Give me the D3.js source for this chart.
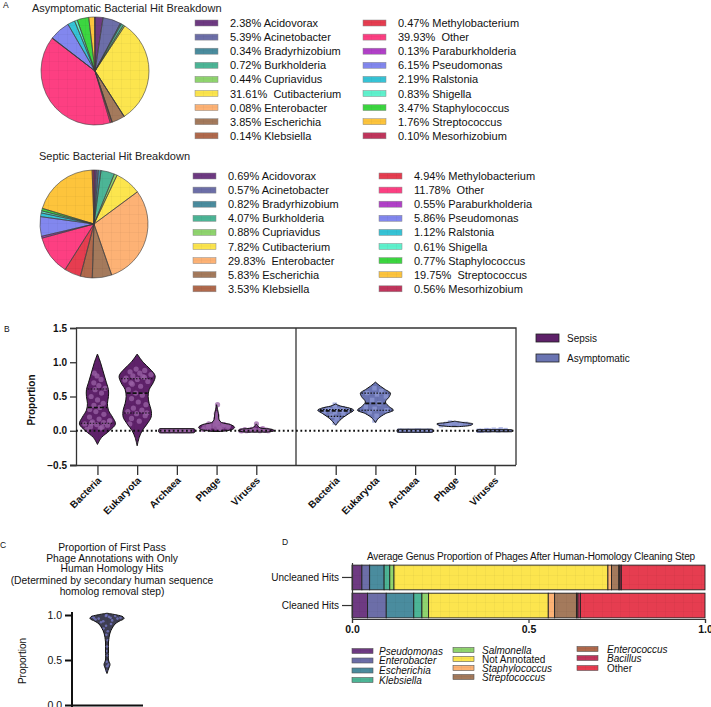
<!DOCTYPE html>
<html>
<head>
<meta charset="utf-8">
<script src="https://cdn.jsdelivr.net/npm/d3@7"></script>
<style>
  body { margin: 0; background: #fff; }
  text { font-family: "Liberation Sans", Arial, sans-serif; fill: #111; }
</style>
</head>
<body>
<script>
// ---- Panel A data ----
const genera = ['Acidovorax', 'Acinetobacter', 'Bradyrhizobium', 'Burkholderia', 'Cupriavidus',
  'Cutibacterium', 'Enterobacter', 'Escherichia', 'Klebsiella', 'Methylobacterium', 'Other',
  'Paraburkholderia', 'Pseudomonas', 'Ralstonia', 'Shigella', 'Staphylococcus', 'Streptococcus',
  'Mesorhizobium'];
const genusColors = ['#6e3a82', '#6c6ea8', '#4a8c9e', '#4cb596', '#8fd46e', '#fce54e', '#fdb275',
  '#a47a5c', '#b0694c', '#e63d50', '#fd3f82', '#b140c8', '#8287ee', '#36c3d6', '#5ff2cd',
  '#3cd640', '#fdc43c', '#c0355c'];
const asymptomaticPct = [2.38, 5.39, 0.34, 0.72, 0.44, 31.61, 0.08, 3.85, 0.14, 0.47, 39.93, 0.13,
  6.15, 2.19, 0.83, 3.47, 1.76, 0.10];
const septicPct = [0.69, 0.57, 0.82, 4.07, 0.88, 7.82, 29.83, 5.83, 3.53, 4.94, 11.78, 0.55,
  5.86, 1.12, 0.61, 0.77, 19.75, 0.56];

// ---- Panel B data ----
const domains = ['Bacteria', 'Eukaryota', 'Archaea', 'Phage', 'Viruses'];
const yTicksB = [-0.5, 0, 0.5, 1.0, 1.5];
// violin outlines: [value, half width in px]
const sepsisProfiles = [
  [[-0.2, 0], [-0.1, 4], [0, 12], [0.1, 18], [0.2, 15], [0.3, 11], [0.4, 10], [0.5, 11], [0.6, 11], [0.7, 9], [0.8, 7], [0.9, 5], [1.0, 3], [1.12, 0]],
  [[-0.22, 0], [-0.1, 2], [0, 5], [0.1, 10], [0.2, 14], [0.3, 14], [0.4, 12], [0.5, 11], [0.6, 12], [0.7, 16], [0.8, 18], [0.9, 13], [1.0, 6], [1.12, 0]],
  [[-0.03, 17], [-0.02, 18], [0.02, 18], [0.03, 17]],
  [[-0.01, 4], [0.02, 16], [0.05, 18], [0.09, 14], [0.12, 5], [0.16, 2.5], [0.25, 1.8], [0.38, 0]],
  [[-0.02, 10], [0.0, 18], [0.02, 16], [0.04, 4], [0.07, 1.5], [0.1, 0]]
];
const asymProfiles = [
  [[0.08, 0], [0.15, 4], [0.2, 8], [0.25, 13], [0.3, 18], [0.33, 14], [0.36, 5], [0.39, 0]],
  [[0.12, 0], [0.18, 3], [0.25, 10], [0.3, 18], [0.35, 14], [0.42, 10], [0.5, 14], [0.55, 15], [0.6, 10], [0.65, 5], [0.71, 0]],
  [[-0.022, 17], [-0.015, 18], [0.015, 18], [0.022, 17]],
  [[0.06, 3], [0.08, 16], [0.1, 18], [0.12, 8], [0.14, 0]],
  [[-0.015, 17], [-0.008, 18], [0.008, 18], [0.015, 17]]
];
const sepsisQuartiles = [[0.11, 0.34, 0.61], [0.26, 0.55, 0.76], null, null, null];
const asymQuartiles = [[0.21, 0.29, 0.31], [0.3, 0.4, 0.55], null, null, null];
const sepsisPoints = [
  [0.02, 0.04, 0.06, 0.08, 0.09, 0.1, 0.12, 0.13, 0.15, 0.17, 0.2, 0.24, 0.28, 0.31, 0.34, 0.37, 0.4, 0.45, 0.5, 0.55, 0.6, 0.62, 0.66, 0.7, 0.75, 0.8, 0.84, 0.05, 0.11, 0.14],
  [0.1, 0.14, 0.18, 0.22, 0.25, 0.28, 0.3, 0.33, 0.38, 0.42, 0.47, 0.52, 0.55, 0.6, 0.65, 0.7, 0.72, 0.75, 0.77, 0.78, 0.8, 0.82, 0.84, 0.86, 0.88, 0.9, 0.74, 0.79, 0.68, 0.26],
  [0, 0, 0, 0, 0, 0, 0, 0, 0, 0, 0, 0, 0, 0, 0, 0, 0, 0, 0, 0],
  [0.02, 0.03, 0.04, 0.05, 0.05, 0.06, 0.06, 0.07, 0.07, 0.08, 0.08, 0.09, 0.1, 0.1, 0.11, 0.12, 0.13, 0.15, 0.18, 0.22, 0.25, 0.38, 0.04, 0.06, 0.09],
  [0, 0, 0.005, 0.01, 0.01, 0.015, 0.02, 0.02, 0.03, 0.1, 0, 0.005, 0.01, 0, 0.02, 0.01, 0]
];
const asymPoints = [
  [0.12, 0.18, 0.22, 0.25, 0.27, 0.28, 0.29, 0.3, 0.3, 0.31, 0.32, 0.33, 0.35, 0.38],
  [0.15, 0.22, 0.27, 0.3, 0.32, 0.35, 0.4, 0.45, 0.5, 0.53, 0.55, 0.58, 0.62],
  [0, 0, 0, 0, 0, 0, 0, 0, 0, 0],
  [0.08, 0.09, 0.1, 0.1, 0.11, 0.12, 0.1, 0.09],
  [0, 0.005, 0.01, 0.01, 0.015, 0, 0.02, 0.005]
];
const groupNames = ['Sepsis', 'Asymptomatic'];
const groupFill = ['#5e2169', '#6a74b2'];
const groupPoint = ['#9a62a6', '#8f9ad6'];

// ---- Panel C data ----
const cTitle = ['Proportion of First Pass', 'Phage Annotations with Only', 'Human Homology Hits',
  '(Determined by secondary human sequence', 'homolog removal step)'];
const cTicks = [0, 0.5, 1.0];
const cProfile = [[0.35, 0], [0.4, 1.5], [0.45, 3], [0.5, 1.5], [0.6, 1.5], [0.7, 1.5], [0.8, 3],
  [0.85, 5], [0.9, 8], [0.93, 12], [0.96, 17], [0.98, 16], [1.0, 10], [1.02, 0]];
const cPoints = [0.98, 0.97, 0.96, 0.99, 1.0, 0.95, 0.94, 0.93, 0.97, 0.98, 0.92, 0.9, 0.88, 0.85,
  0.82, 0.78, 0.72, 0.65, 0.6, 0.55, 0.48, 0.45, 0.43, 0.38, 0.96, 0.99, 0.97];

// ---- Panel D data ----
const hitSets = ['Uncleaned Hits', 'Cleaned Hits'];
const phageGenera = ['Pseudomonas', 'Enterobacter', 'Escherichia', 'Klebsiella', 'Salmonella',
  'Not Annotated', 'Staphylococcus', 'Streptococcus', 'Enterococcus', 'Bacillus', 'Other'];
const phageColors = ['#6e3a82', '#6c6ea8', '#4a8c9e', '#4cb596', '#8fd46e', '#fce54e', '#fdb275',
  '#a47a5c', '#b0694c', '#c0355c', '#e63d50'];
const uncleanedProp = [0.028, 0.022, 0.041, 0.016, 0.012, 0.606, 0.010, 0.021, 0.003, 0.004, 0.237];
const cleanedProp = [0.044, 0.053, 0.078, 0.023, 0.019, 0.339, 0.018, 0.062, 0.004, 0.007, 0.353];

const svg = d3.select('body').append('svg').attr('width', 711).attr('height', 707);

// faint grid texture used on the filled shapes
const defs = svg.append('defs');
defs.append('pattern').attr('id', 'grid').attr('patternUnits', 'userSpaceOnUse')
  .attr('width', 9).attr('height', 9)
  .append('path').attr('d', 'M9 0V9M0 9H9')
  .attr('stroke', 'rgba(0,0,0,0.09)').attr('stroke-width', 0.7).attr('fill', 'none');

function panelLetter(t, x, y) {
  svg.append('text').attr('x', x).attr('y', y).attr('font-size', 8.5).text(t);
}

// ================= Panel A =================
function pieBlock(values, cx, cy, title, titleX, titleY, legX1, legX2, legY) {
  svg.append('text').attr('x', titleX).attr('y', titleY).attr('font-size', 11)
    .style('fill', '#222').text(title);
  const arcs = d3.pie().sort(null).value(d => d)(values);
  const arc = d3.arc().innerRadius(0).outerRadius(54);
  const g = svg.append('g').attr('transform', `translate(${cx},${cy})`);
  g.selectAll('path.slice').data(arcs).enter().append('path')
    .attr('class', 'slice').attr('d', arc)
    .attr('fill', (d, i) => genusColors[i]);
  g.selectAll('path.tex').data(arcs).enter().append('path')
    .attr('d', arc).attr('fill', 'url(#grid)')
    .attr('stroke', '#3a3a3a').attr('stroke-width', 0.6);

  const leg = svg.append('g');
  const rows = leg.selectAll('g').data(values).enter().append('g')
    .attr('transform', (d, i) => `translate(${i < 9 ? legX1 : legX2},${legY + (i % 9) * 14.1})`);
  rows.append('rect').attr('x', 0).attr('y', -3).attr('width', 23).attr('height', 6)
    .attr('fill', (d, i) => genusColors[i]);
  rows.append('rect').attr('x', 0).attr('y', -3).attr('width', 23).attr('height', 6)
    .attr('fill', 'url(#grid)').attr('stroke', '#888').attr('stroke-width', 0.5);
  rows.append('text').attr('x', 35).attr('y', 4).attr('font-size', 11)
    .style('white-space', 'pre')
    .text((d, i) => d.toFixed(2) + '%' + (d >= 10 ? '  ' : ' ') + genera[i]);
}

panelLetter('A', 3, 8);
pieBlock(asymptomaticPct, 95, 71, 'Asymptomatic Bacterial Hit Breakdown', 32, 12, 195, 363, 23);
pieBlock(septicPct, 94, 224, 'Septic Bacterial Hit Breakdown', 39, 160, 193, 379, 176);

// ================= Panel B =================
panelLetter('B', 4, 332);
const bLeft = 76, bRight = 516, bTop = 328, bBottom = 465;
const xKeys = domains.map(d => 'S-' + d).concat(['gap'], domains.map(d => 'A-' + d));
const xB = d3.scalePoint().domain(xKeys).range([bLeft, bRight]).padding(0.54);
const yB = d3.scaleLinear().domain([-0.5, 1.5]).range([bBottom, bTop]);
const gB = svg.append('g');

// frame
gB.append('path')
  .attr('d', `M${bLeft},${bTop}H${bRight}V${bBottom}`)
  .attr('fill', 'none').attr('stroke', '#333').attr('stroke-width', 1.3);
gB.append('line').attr('x1', xB('gap')).attr('x2', xB('gap')).attr('y1', bTop).attr('y2', bBottom)
  .attr('stroke', '#333').attr('stroke-width', 1.3);

const axL = gB.append('g').attr('transform', `translate(${bLeft},0)`)
  .call(d3.axisLeft(yB).tickValues(yTicksB).tickSize(6).tickFormat(d3.format('.1f')));
axL.selectAll('path, line').attr('stroke', '#333').attr('stroke-width', 1.3);
axL.selectAll('text').attr('font-size', 10).attr('font-weight', 'bold')
  .style('font-family', '"Liberation Sans", Arial, sans-serif').attr('fill', '#111');

const xTickKeys = xKeys.filter(k => k !== 'gap');
const axB = gB.append('g').attr('transform', `translate(0,${bBottom})`)
  .call(d3.axisBottom(xB).tickValues(xTickKeys).tickSize(10).tickSizeOuter(0)
    .tickFormat(k => k.slice(2)));
axB.select('.domain').attr('d', `M${bLeft - 6},0.5H${bRight}`);
axB.selectAll('path, line').attr('stroke', '#333').attr('stroke-width', 1.3);
axB.selectAll('text').attr('font-size', 10).attr('font-weight', 'bold')
  .style('font-family', '"Liberation Sans", Arial, sans-serif').attr('fill', '#111')
  .attr('text-anchor', 'end').attr('dy', 0).attr('y', 0)
  .attr('transform', 'translate(4,16) rotate(-45)');

gB.append('text').attr('transform', `translate(35,400) rotate(-90)`)
  .attr('text-anchor', 'middle').attr('font-size', 10).attr('font-weight', 'bold')
  .text('Proportion');

function drawViolin(g, cx, y, profile, quart, points, fill, pointFill, square, pr) {
  const w = d3.scaleLinear().domain(profile.map(p => p[0])).range(profile.map(p => p[1])).clamp(true);
  const area = d3.area().curve(d3.curveCatmullRom.alpha(0.5))
    .y(p => y(p[0])).x0(p => cx - p[1]).x1(p => cx + p[1]);
  g.append('path').attr('d', area(profile)).attr('fill', fill);
  g.append('path').attr('d', area(profile)).attr('fill', 'url(#grid)');
  const pts = g.append('g');
  points.forEach((v, i) => {
    const f = ((i * 0.618034) % 1) * 2 - 1;
    const px = cx + f * Math.max(w(v) - pr, 1);
    if (square) {
      pts.append('rect').attr('x', px - pr).attr('y', y(v) - pr).attr('width', 2 * pr).attr('height', 2 * pr)
        .attr('fill', pointFill).attr('opacity', 0.75);
    } else {
      pts.append('circle').attr('cx', px).attr('cy', y(v)).attr('r', pr)
        .attr('fill', pointFill).attr('opacity', 0.75);
    }
  });
  g.append('path').attr('d', area(profile)).attr('fill', 'none')
    .attr('stroke', '#111').attr('stroke-width', 1);
  if (quart) {
    quart.forEach((q, k) => {
      const hw = w(q) - 1;
      g.append('line').attr('x1', cx - hw).attr('x2', cx + hw).attr('y1', y(q)).attr('y2', y(q))
        .attr('stroke', '#111')
        .attr('stroke-width', k === 1 ? 1.6 : 1.1)
        .attr('stroke-dasharray', k === 1 ? '4,2' : '1.5,1.5');
    });
  }
}

domains.forEach((d, i) => {
  drawViolin(gB, xB('S-' + d), yB, sepsisProfiles[i], sepsisQuartiles[i], sepsisPoints[i],
    groupFill[0], groupPoint[0], false, 2.6);
  drawViolin(gB, xB('A-' + d), yB, asymProfiles[i], asymQuartiles[i], asymPoints[i],
    groupFill[1], groupPoint[1], true, 2.2);
});

// zero reference line
gB.append('line').attr('x1', bLeft).attr('x2', bRight).attr('y1', yB(0)).attr('y2', yB(0))
  .attr('stroke', '#111').attr('stroke-width', 1.8).attr('stroke-dasharray', '1.8,2.6');

const legB = svg.append('g').selectAll('g').data(groupNames).enter().append('g')
  .attr('transform', (d, i) => `translate(536,${338 + i * 20})`);
legB.append('rect').attr('x', 0).attr('y', -4).attr('width', 23).attr('height', 8)
  .attr('fill', (d, i) => groupFill[i]).attr('stroke', '#222').attr('stroke-width', 0.8);
legB.append('text').attr('x', 31).attr('y', 4).attr('font-size', 10).text(d => d);

// ================= Panel C =================
panelLetter('C', 0, 548);
const gC = svg.append('g');
gC.selectAll('text.t').data(cTitle).enter().append('text')
  .attr('x', 112).attr('y', (d, i) => 551 + i * 10.6 + (i >= 3 ? 1.5 : 0))
  .attr('text-anchor', 'middle').attr('font-size', 10.3).text(d => d);
const yC = d3.scaleLinear().domain([0, 1]).range([705, 615]);
const axC = gC.append('g').attr('transform', 'translate(72,0)')
  .call(d3.axisLeft(yC).tickValues(cTicks).tickSize(7).tickSizeOuter(0).tickFormat(d3.format('.1f')));
axC.select('.domain').attr('d', 'M0,612V707');
axC.selectAll('path, line').attr('stroke', '#111').attr('stroke-width', 2);
axC.selectAll('text').attr('font-size', 10.5)
  .style('font-family', '"Liberation Sans", Arial, sans-serif').attr('fill', '#111');
gC.append('line').attr('x1', 71).attr('x2', 143).attr('y1', 705.5).attr('y2', 705.5)
  .attr('stroke', '#111').attr('stroke-width', 2);
gC.append('text').attr('transform', 'translate(26,661) rotate(-90)')
  .attr('text-anchor', 'middle').attr('font-size', 10).text('Proportion');
drawViolin(gC, 107, yC, cProfile, null, cPoints, '#3e3e52', '#7a7ccc', false, 1.3);

// ================= Panel D =================
panelLetter('D', 282, 545);
const gD = svg.append('g');
gD.append('text').attr('x', 531).attr('y', 560).attr('text-anchor', 'middle')
  .attr('font-size', 10).style('letter-spacing', '-0.15px')
  .text('Average Genus Proportion of Phages After Human-Homology Cleaning Step');

const xD = d3.scaleLinear().domain([0, 1]).range([352, 705]);
const yD = d3.scaleBand().domain(hitSets).range([564, 619]).paddingInner(0.12).paddingOuter(0.04);
const table = [uncleanedProp, cleanedProp].map((vals, r) => {
  const row = { set: hitSets[r] };
  phageGenera.forEach((k, i) => { row[k] = vals[i]; });
  return row;
});
const series = d3.stack().keys(phageGenera)(table);
series.forEach((s, si) => {
  gD.selectAll(null).data(s).enter().append('rect')
    .attr('x', d => xD(d[0])).attr('width', d => xD(d[1]) - xD(d[0]))
    .attr('y', d => yD(d.data.set)).attr('height', yD.bandwidth())
    .attr('fill', phageColors[si]);
  gD.selectAll(null).data(s).enter().append('rect')
    .attr('x', d => xD(d[0])).attr('width', d => xD(d[1]) - xD(d[0]))
    .attr('y', d => yD(d.data.set)).attr('height', yD.bandwidth())
    .attr('fill', 'url(#grid)').attr('stroke', '#222').attr('stroke-width', 0.9);
});

const axDx = gD.append('g').attr('transform', 'translate(0,619)')
  .call(d3.axisBottom(xD).tickValues([0, 0.5, 1]).tickSize(4).tickFormat(d3.format('.1f')));
axDx.selectAll('path, line').attr('stroke', '#333').attr('stroke-width', 1.2);
axDx.selectAll('text').attr('font-size', 10.5).attr('font-weight', 'bold')
  .style('font-family', '"Liberation Sans", Arial, sans-serif').attr('fill', '#222');
const axDy = gD.append('g').attr('transform', 'translate(352,0)')
  .call(d3.axisLeft(yD).tickSize(10).tickSizeOuter(0));
axDy.select('.domain').attr('d', 'M0.5,563V619');
axDy.selectAll('path, line').attr('stroke', '#333').attr('stroke-width', 1.2);
axDy.selectAll('text').attr('font-size', 10)
  .style('font-family', '"Liberation Sans", Arial, sans-serif').attr('fill', '#111');

// legend, three columns
const dCols = [[0, 1, 2, 3], [4, 5, 6, 7], [8, 9, 10]];
const dColX = [352, 453, 577];
const dColY = [[651, 660.5, 670.5, 680], [650, 659, 668, 677], [649, 658, 668]];
dCols.forEach((col, c) => {
  col.forEach((gi, r) => {
    const g = gD.append('g').attr('transform', `translate(${dColX[c]},${dColY[c][r]})`);
    g.append('rect').attr('x', 0).attr('y', -2.5).attr('width', 21).attr('height', 5)
      .attr('fill', phageColors[gi]);
    g.append('rect').attr('x', 0).attr('y', -2.5).attr('width', 21).attr('height', 5)
      .attr('fill', 'url(#grid)').attr('stroke', '#555').attr('stroke-width', 0.6);
    const name = phageGenera[gi];
    g.append('text').attr('x', c === 0 ? 27 : (c === 1 ? 29 : 30)).attr('y', 3.5)
      .attr('font-size', 10)
      .attr('font-style', (name === 'Not Annotated' || name === 'Other') ? 'normal' : 'italic')
      .text(name);
  });
});
</script>
</body>
</html>
